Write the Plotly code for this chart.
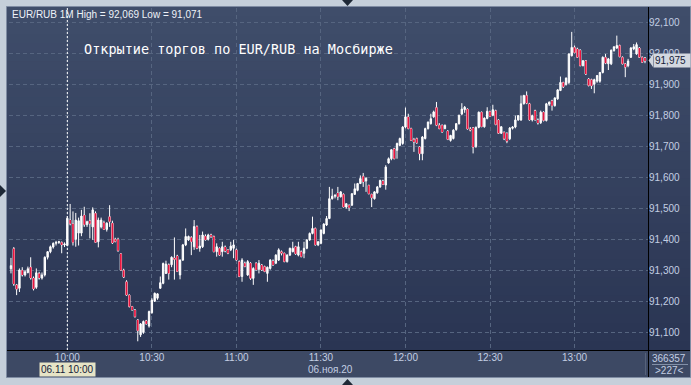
import plotly.graph_objects as go
import pandas as pd

# ---------------- data (EUR/RUB, 1-minute candles, 06.11.2020) ----------------
start_time = "2020-11-06 09:40"

open_ = [
    91.305, 91.370, 91.253, 91.242, 91.300, 91.285, 91.293, 91.310, 91.275, 91.245,
    91.290, 91.275, 91.285, 91.342, 91.360, 91.375, 91.387, 91.390, 91.390, 91.382,
    91.380, 91.462, 91.450, 91.400, 91.420, 91.420, 91.478, 91.447, 91.460, 91.440,
    91.484, 91.392, 91.440, 91.454, 91.432, 91.473, 91.452, 91.400, 91.400, 91.353,
    91.300, 91.263, 91.220, 91.183, 91.172, 91.140, 91.092, 91.100, 91.137, 91.120,
    91.163, 91.200, 91.210, 91.242, 91.258, 91.290, 91.318, 91.318, 91.340, 91.346,
    91.285, 91.333, 91.382, 91.398, 91.406, 91.376, 91.441, 91.371, 91.376, 91.410,
    91.400, 91.414, 91.409, 91.360, 91.371, 91.360, 91.375, 91.366, 91.366, 91.371,
    91.366, 91.328, 91.280, 91.323, 91.285, 91.323, 91.274, 91.323, 91.303, 91.317,
    91.312, 91.290, 91.306, 91.330, 91.323, 91.333, 91.360, 91.355, 91.328, 91.349,
    91.360, 91.376, 91.349, 91.360, 91.355, 91.371, 91.398, 91.419, 91.435, 91.382,
    91.387, 91.419, 91.446, 91.467, 91.531, 91.539, 91.549, 91.537, 91.545, 91.504,
    91.510, 91.510, 91.545, 91.558, 91.580, 91.603, 91.588, 91.574, 91.545, 91.531,
    91.550, 91.569, 91.588, 91.575, 91.646, 91.660, 91.692, 91.687, 91.703, 91.709,
    91.762, 91.795, 91.757, 91.722, 91.725, 91.698, 91.676, 91.725, 91.757, 91.773,
    91.795, 91.825, 91.768, 91.768, 91.757, 91.749, 91.719, 91.725, 91.754, 91.773,
    91.804, 91.818, 91.820, 91.756, 91.760, 91.699, 91.761, 91.810, 91.763, 91.790,
    91.812, 91.800, 91.815, 91.785, 91.742, 91.745, 91.742, 91.724, 91.758, 91.762,
    91.785, 91.785, 91.837, 91.864, 91.837, 91.785, 91.815, 91.785, 91.776, 91.810,
    91.783, 91.836, 91.847, 91.831, 91.853, 91.880, 91.906, 91.899, 91.906, 91.992,
    92.019, 92.014, 92.010, 91.960, 91.976, 91.917, 91.915, 91.900, 91.910, 91.910,
    91.938, 91.987, 91.966, 91.966, 92.009, 92.017, 92.025, 91.987, 91.966, 91.960,
    91.987, 92.014, 91.998, 92.017, 91.987, 91.985,
]

high = [
    91.340, 91.375, 91.256, 91.306, 91.310, 91.300, 91.312, 91.342, 91.280, 91.306,
    91.295, 91.293, 91.345, 91.362, 91.380, 91.390, 91.395, 91.395, 91.393, 91.390,
    91.475, 91.514, 91.490, 91.485, 91.470, 91.495, 91.505, 91.460, 91.484, 91.503,
    91.490, 91.470, 91.470, 91.460, 91.455, 91.510, 91.460, 91.405, 91.405, 91.355,
    91.305, 91.268, 91.222, 91.185, 91.175, 91.142, 91.130, 91.138, 91.140, 91.170,
    91.210, 91.228, 91.226, 91.280, 91.325, 91.331, 91.322, 91.345, 91.406, 91.350,
    91.335, 91.385, 91.435, 91.412, 91.410, 91.462, 91.445, 91.414, 91.425, 91.416,
    91.418, 91.418, 91.412, 91.387, 91.374, 91.392, 91.380, 91.368, 91.392, 91.398,
    91.370, 91.332, 91.339, 91.328, 91.333, 91.326, 91.310, 91.326, 91.333, 91.320,
    91.315, 91.312, 91.336, 91.335, 91.352, 91.371, 91.364, 91.357, 91.352, 91.373,
    91.392, 91.379, 91.392, 91.364, 91.392, 91.400, 91.422, 91.473, 91.438, 91.394,
    91.432, 91.452, 91.475, 91.569, 91.563, 91.545, 91.569, 91.555, 91.548, 91.516,
    91.512, 91.549, 91.580, 91.582, 91.606, 91.614, 91.600, 91.576, 91.547, 91.555,
    91.572, 91.592, 91.592, 91.639, 91.664, 91.690, 91.695, 91.712, 91.728, 91.765,
    91.825, 91.805, 91.760, 91.727, 91.728, 91.700, 91.733, 91.760, 91.780, 91.805,
    91.815, 91.843, 91.775, 91.770, 91.770, 91.752, 91.737, 91.755, 91.775, 91.802,
    91.839, 91.830, 91.822, 91.762, 91.762, 91.764, 91.812, 91.812, 91.793, 91.826,
    91.815, 91.834, 91.818, 91.787, 91.765, 91.748, 91.745, 91.762, 91.765, 91.799,
    91.800, 91.864, 91.866, 91.877, 91.840, 91.802, 91.818, 91.790, 91.815, 91.813,
    91.840, 91.845, 91.850, 91.858, 91.884, 91.925, 91.908, 91.922, 92.000, 92.069,
    92.025, 92.018, 92.013, 91.978, 91.978, 91.920, 91.918, 91.918, 91.930, 91.940,
    91.990, 91.998, 91.985, 92.012, 92.022, 92.057, 92.028, 91.990, 91.968, 91.982,
    92.020, 92.030, 92.035, 92.020, 91.990, 91.988,
]

low = [
    91.290, 91.250, 91.220, 91.230, 91.280, 91.280, 91.290, 91.270, 91.235, 91.240,
    91.270, 91.270, 91.280, 91.335, 91.355, 91.370, 91.380, 91.385, 91.355, 91.375,
    91.378, 91.445, 91.380, 91.376, 91.380, 91.410, 91.440, 91.440, 91.403, 91.398,
    91.390, 91.374, 91.435, 91.430, 91.425, 91.440, 91.385, 91.390, 91.360, 91.300,
    91.275, 91.218, 91.180, 91.170, 91.148, 91.071, 91.085, 91.095, 91.125, 91.115,
    91.160, 91.198, 91.205, 91.240, 91.255, 91.288, 91.270, 91.310, 91.270, 91.295,
    91.271, 91.330, 91.378, 91.395, 91.349, 91.366, 91.368, 91.360, 91.372, 91.396,
    91.396, 91.405, 91.358, 91.344, 91.347, 91.344, 91.358, 91.352, 91.362, 91.339,
    91.331, 91.278, 91.263, 91.310, 91.282, 91.269, 91.253, 91.300, 91.290, 91.298,
    91.294, 91.263, 91.302, 91.315, 91.320, 91.330, 91.348, 91.326, 91.325, 91.346,
    91.358, 91.350, 91.345, 91.342, 91.339, 91.368, 91.395, 91.416, 91.380, 91.378,
    91.384, 91.416, 91.443, 91.465, 91.528, 91.532, 91.526, 91.535, 91.503, 91.499,
    91.491, 91.508, 91.543, 91.555, 91.578, 91.569, 91.553, 91.545, 91.504, 91.528,
    91.547, 91.566, 91.575, 91.560, 91.644, 91.655, 91.658, 91.660, 91.700, 91.705,
    91.758, 91.755, 91.717, 91.682, 91.708, 91.655, 91.655, 91.722, 91.754, 91.770,
    91.792, 91.765, 91.755, 91.744, 91.755, 91.720, 91.715, 91.722, 91.750, 91.770,
    91.800, 91.808, 91.754, 91.748, 91.677, 91.695, 91.758, 91.762, 91.760, 91.787,
    91.795, 91.797, 91.768, 91.740, 91.740, 91.720, 91.710, 91.720, 91.754, 91.758,
    91.782, 91.782, 91.835, 91.836, 91.783, 91.780, 91.783, 91.770, 91.772, 91.780,
    91.780, 91.830, 91.815, 91.828, 91.850, 91.878, 91.888, 91.896, 91.900, 91.990,
    92.000, 91.985, 91.958, 91.958, 91.930, 91.893, 91.885, 91.871, 91.905, 91.905,
    91.935, 91.965, 91.946, 91.962, 92.005, 92.014, 91.987, 91.964, 91.923, 91.955,
    91.985, 92.010, 91.995, 91.985, 91.970, 91.968,
]

close = [
    91.315, 91.256, 91.239, 91.301, 91.285, 91.295, 91.305, 91.275, 91.240, 91.292,
    91.275, 91.285, 91.342, 91.360, 91.376, 91.387, 91.390, 91.392, 91.382, 91.385,
    91.468, 91.450, 91.390, 91.462, 91.460, 91.475, 91.447, 91.457, 91.450, 91.495,
    91.390, 91.462, 91.462, 91.432, 91.452, 91.457, 91.388, 91.393, 91.363, 91.300,
    91.278, 91.220, 91.183, 91.172, 91.150, 91.105, 91.127, 91.135, 91.127, 91.167,
    91.204, 91.226, 91.224, 91.260, 91.322, 91.320, 91.290, 91.342, 91.335, 91.296,
    91.333, 91.382, 91.409, 91.409, 91.392, 91.441, 91.371, 91.378, 91.414, 91.398,
    91.414, 91.408, 91.360, 91.376, 91.349, 91.376, 91.362, 91.355, 91.378, 91.382,
    91.333, 91.280, 91.333, 91.312, 91.328, 91.274, 91.306, 91.301, 91.323, 91.301,
    91.296, 91.310, 91.333, 91.317, 91.349, 91.366, 91.355, 91.328, 91.349, 91.371,
    91.371, 91.353, 91.376, 91.344, 91.371, 91.398, 91.419, 91.435, 91.382, 91.392,
    91.430, 91.449, 91.467, 91.531, 91.539, 91.542, 91.537, 91.553, 91.504, 91.515,
    91.502, 91.547, 91.563, 91.580, 91.596, 91.585, 91.597, 91.547, 91.534, 91.553,
    91.569, 91.590, 91.577, 91.633, 91.660, 91.689, 91.660, 91.709, 91.725, 91.762,
    91.795, 91.757, 91.719, 91.714, 91.711, 91.676, 91.730, 91.757, 91.778, 91.789,
    91.811, 91.768, 91.757, 91.746, 91.768, 91.722, 91.735, 91.752, 91.773, 91.800,
    91.820, 91.826, 91.756, 91.752, 91.697, 91.761, 91.810, 91.763, 91.791, 91.813,
    91.796, 91.818, 91.770, 91.742, 91.763, 91.724, 91.716, 91.759, 91.762, 91.785,
    91.799, 91.837, 91.864, 91.839, 91.785, 91.799, 91.785, 91.775, 91.810, 91.783,
    91.837, 91.842, 91.831, 91.856, 91.882, 91.906, 91.892, 91.920, 91.998, 92.019,
    92.002, 91.987, 91.960, 91.976, 91.933, 91.896, 91.895, 91.915, 91.928, 91.938,
    91.987, 91.968, 91.982, 92.010, 92.021, 92.025, 91.989, 91.966, 91.955, 91.975,
    92.017, 92.021, 92.028, 91.987, 91.971, 91.975,
]

price_ticks = [91.1, 91.2, 91.3, 91.4, 91.5, 91.6, 91.7, 91.8, 91.9, 92.0, 92.1]
price_tick_text = ["91,100", "91,200", "91,300", "91,400", "91,500", "91,600",
                   "91,700", "91,800", "91,900", "92,000", "92,100"]
time_ticks = ["10:00", "10:30", "11:00", "11:30", "12:00", "12:30", "13:00"]
session_start = "10:00"
day = "2020-11-06"
title_text = "Открытие торгов по EUR/RUB на Мосбирже"
date_label = "06.ноя.20"
session_label = "06.11 10:00"
volume_label = "366357"
count_label = ">227<"

times = pd.date_range(start_time, periods=len(close), freq="min")

# ---------------- layout geometry ----------------
W, H = 691, 385
L, R, T, B = 9, 43, 8, 35
PW, PH = W - L - R, H - T - B


def px(x):
    return (x - L) / PW


def py(y):
    return (H - B - y) / PH


def fmt(v):
    return f"{v:.3f}".replace(".", ",")


TXT = "#c3cee3"
FONT = "Liberation Sans"
RED = "#e8143e"

fig = go.Figure()
# candles: white outline and wicks
fig.add_trace(go.Candlestick(
    x=times, open=open_, high=high, low=low, close=close,
    increasing=dict(line=dict(color="#ffffff", width=1), fillcolor="#ffffff"),
    decreasing=dict(line=dict(color="#ffffff", width=1), fillcolor=RED),
    whiskerwidth=0, showlegend=False, hoverinfo="skip",
))
# red body of falling candles, drawn inside the white outline
seg_x, seg_y = [], []
for i in range(len(close)):
    if close[i] < open_[i]:
        seg_x += [times[i], times[i], None]
        seg_y += [open_[i], close[i], None]
fig.add_trace(go.Scatter(
    x=seg_x, y=seg_y, mode="lines", connectgaps=False,
    line=dict(color=RED, width=1.7),
    showlegend=False, hoverinfo="skip",
))

shapes = []
# chart window (frame + bottom axis strip)
shapes.append(dict(type="rect", xref="paper", yref="paper", layer="below",
                   x0=px(6.5), x1=px(690.5), y0=py(377.5), y1=py(6.5),
                   fillcolor="#3d4964", line=dict(color="#7f8ca3", width=1)))
# vertical gradient of the plot + right axis area
top_c = (63, 77, 106)
bot_c = (42, 53, 83)
nb = 38
y_top, y_bot = 7.0, 350.0
for i in range(nb):
    t = i / (nb - 1)
    c = tuple(round(top_c[k] + (bot_c[k] - top_c[k]) * t) for k in range(3))
    ya = y_top + (y_bot - y_top) * i / nb
    yb = y_top + (y_bot - y_top) * (i + 1) / nb
    shapes.append(dict(type="rect", xref="paper", yref="paper", layer="below",
                       x0=px(7), x1=px(690), y0=py(yb + 0.5), y1=py(ya),
                       fillcolor="rgb(%d,%d,%d)" % c, line=dict(width=0)))
# black separators
shapes.append(dict(type="line", xref="paper", yref="paper", layer="above",
                   x0=px(648.5), x1=px(648.5), y0=py(377), y1=py(7),
                   line=dict(color="#000000", width=1)))
shapes.append(dict(type="line", xref="paper", yref="paper", layer="above",
                   x0=px(7), x1=px(690), y0=py(350.5), y1=py(350.5),
                   line=dict(color="#000000", width=1)))
shapes.append(dict(type="line", xref="paper", yref="paper", layer="above",
                   x0=px(645.5), x1=px(645.5), y0=py(375), y1=py(353),
                   line=dict(color="#56627a", width=1)))
shapes.append(dict(type="line", xref="paper", yref="paper", layer="above",
                   x0=px(652), x1=px(688), y0=py(364.5), y1=py(364.5),
                   line=dict(color="#8390a8", width=1)))
# session start line
shapes.append(dict(type="line", xref="x", yref="paper", layer="above",
                   x0=f"{day} {session_start}", x1=f"{day} {session_start}", y0=0, y1=1,
                   line=dict(color="#ffffff", width=1, dash="2px,2px")))
# last price marker arrow
shapes.append(dict(type="path", xref="paper", yref="paper", layer="above",
                   path=f"M {px(648.5)},{py(60.5)} L {px(653)},{py(54)} L {px(653)},{py(67)} Z",
                   fillcolor="#d3d8e0", line=dict(width=0)))
# window triangles
tri = "#1e2836"
shapes.append(dict(type="path", xref="paper", yref="paper", layer="above",
                   path=f"M {px(342)},{py(0)} L {px(353)},{py(0)} L {px(347.5)},{py(6)} Z",
                   fillcolor=tri, line=dict(width=0)))
shapes.append(dict(type="path", xref="paper", yref="paper", layer="above",
                   path=f"M {px(342)},{py(385)} L {px(353)},{py(385)} L {px(347.5)},{py(379)} Z",
                   fillcolor=tri, line=dict(width=0)))
shapes.append(dict(type="path", xref="paper", yref="paper", layer="above",
                   path=f"M {px(0)},{py(185)} L {px(0)},{py(197)} L {px(6)},{py(191)} Z",
                   fillcolor=tri, line=dict(width=0)))

annotations = [
    dict(text=f"EUR/RUB 1M High = {fmt(max(high))} Low = {fmt(min(low))}",
         x=px(10), y=py(14.5), xanchor="left", yanchor="middle",
         font=dict(family=FONT, size=10, color="#eef2f8")),
    dict(text=title_text, x=px(238.5), y=py(49), xanchor="center", yanchor="middle",
         font=dict(family="DejaVu Sans Mono", size=13.5, color="#ffffff")),
    dict(text=session_label, x=px(67), y=py(369.5), xanchor="center", yanchor="middle",
         bgcolor="#e6e4c6", borderpad=1,
         font=dict(family=FONT, size=10, color="#142038")),
    dict(text=date_label, x=px(330), y=py(369.5), xanchor="center", yanchor="middle",
         font=dict(family=FONT, size=10, color=TXT)),
    dict(text=volume_label, x=px(669), y=py(358), xanchor="center", yanchor="middle",
         font=dict(family=FONT, size=10, color=TXT)),
    dict(text=count_label, x=px(669), y=py(370.5), xanchor="center", yanchor="middle",
         font=dict(family=FONT, size=10, color=TXT)),
    dict(text=fmt(close[-1]), x=px(653), y=py(60.5), xanchor="left", yanchor="middle",
         bgcolor="#d3d8e0", borderpad=1, width=34, align="left",
         font=dict(family=FONT, size=10, color="#142038")),
]
for a in annotations:
    a.update(xref="paper", yref="paper", showarrow=False)

fig.update_layout(
    width=W, height=H,
    margin=dict(l=L, r=R, t=T, b=B, pad=0),
    paper_bgcolor="#c5cfda",
    plot_bgcolor="rgba(0,0,0,0)",
    shapes=shapes,
    annotations=annotations,
    showlegend=False,
    xaxis=dict(
        type="date",
        range=[f"{day} 09:39:18", f"{day} 13:26:04"],
        tickvals=[f"{day} {t}" for t in time_ticks],
        ticktext=time_ticks,
        showgrid=True, gridcolor="#566580", griddash="4px,3px", gridwidth=1,
        zeroline=False, showline=False, ticks="",
        tickfont=dict(family=FONT, size=10, color=TXT),
        rangeslider=dict(visible=False),
        fixedrange=True,
    ),
    yaxis=dict(
        side="right",
        range=[91.0429, 92.1461],
        tickvals=price_ticks,
        ticktext=price_tick_text,
        showgrid=True, gridcolor="#566580", griddash="4px,3px", gridwidth=1,
        zeroline=False, showline=False, ticks="",
        tickfont=dict(family=FONT, size=10, color=TXT),
        fixedrange=True,
    ),
)

fig.write_html("out.html")
